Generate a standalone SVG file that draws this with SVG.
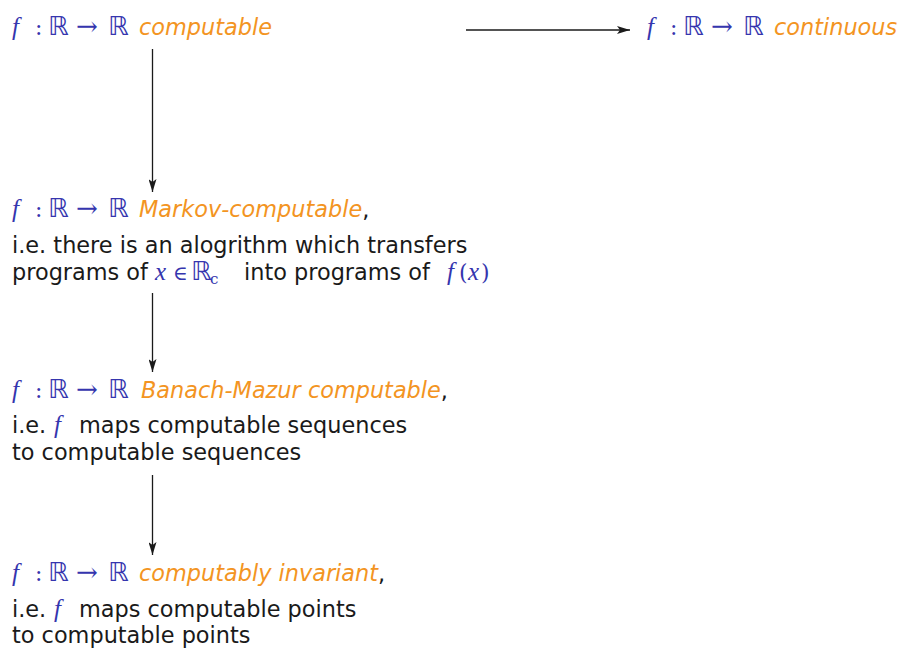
<svg xmlns="http://www.w3.org/2000/svg" width="900" height="649" viewBox="0 0 900 649">
<defs>
<style>
.t{font-family:"DejaVu Sans",sans-serif;font-size:22.4px;fill:#1a1a1a}
.o{font-family:"DejaVu Sans",sans-serif;font-size:22.4px;font-style:italic;fill:#F39422}
.mi{font-family:"Liberation Serif","DejaVu Serif",serif;font-size:25px;font-style:italic;fill:#3535AE}
.m{font-family:"DejaVu Serif",serif;font-size:22px;fill:#3535AE}
.ar{font-family:"DejaVu Serif",serif;font-size:26px;fill:#3535AE}
.bb{font-family:"DejaVu Sans",sans-serif;font-size:26px;fill:#3535AE}
.sub{font-family:"DejaVu Serif",serif;font-size:15px;fill:#3535AE}
.c{stroke:#1a1a1a;stroke-width:1.3;fill:none}
</style>
<marker id="ah" viewBox="0 0 13 8" refX="13" refY="4" markerWidth="13" markerHeight="8" markerUnits="userSpaceOnUse" orient="auto">
<path d="M0,0 L13,4 L0,8 L3,4 Z" fill="#1a1a1a"/>
</marker>
</defs>
<g id="connectors">
<line class="c" x1="466" y1="30" x2="630" y2="30" marker-end="url(#ah)"/>
<line class="c" x1="152.5" y1="49" x2="152.5" y2="192" marker-end="url(#ah)"/>
<line class="c" x1="152.5" y1="293" x2="152.5" y2="372" marker-end="url(#ah)"/>
<line class="c" x1="152.5" y1="475" x2="152.5" y2="555" marker-end="url(#ah)"/>
</g>
<g id="computable">
<text y="35"><tspan class="mi" x="12">f</tspan><tspan class="m" x="35">:</tspan><tspan class="bb" x="48">ℝ</tspan><tspan class="ar" x="76">→</tspan><tspan class="bb" x="108">ℝ</tspan><tspan class="o" x="139">computable</tspan></text>
</g>
<g id="continuous">
<text y="35"><tspan class="mi" x="647">f</tspan><tspan class="m" x="670">:</tspan><tspan class="bb" x="683">ℝ</tspan><tspan class="ar" x="711">→</tspan><tspan class="bb" x="743">ℝ</tspan><tspan class="o" x="774">continuous</tspan></text>
</g>
<g id="markov">
<text y="217"><tspan class="mi" x="12">f</tspan><tspan class="m" x="35">:</tspan><tspan class="bb" x="48">ℝ</tspan><tspan class="ar" x="76">→</tspan><tspan class="bb" x="108">ℝ</tspan><tspan class="o" x="139">Markov-computable</tspan><tspan class="t">,</tspan></text>
<text class="t" x="12" y="253">i.e. there is an alogrithm which transfers</text>
<text y="280"><tspan class="t" x="12">programs of</tspan><tspan class="mi" x="155">x</tspan><tspan class="m" x="173" style="font-size:20px">∈</tspan><tspan class="bb" x="191">ℝ</tspan><tspan class="sub" x="210" y="284">c</tspan><tspan class="t" x="244" y="280">into programs of</tspan><tspan class="mi" x="447">f</tspan><tspan class="m" x="459">(</tspan><tspan class="mi" x="468">x</tspan><tspan class="m" x="481">)</tspan></text>
</g>
<g id="banach-mazur">
<text y="398"><tspan class="mi" x="12">f</tspan><tspan class="m" x="35">:</tspan><tspan class="bb" x="48">ℝ</tspan><tspan class="ar" x="76">→</tspan><tspan class="bb" x="108">ℝ</tspan><tspan class="o" x="141">Banach-Mazur computable</tspan><tspan class="t">,</tspan></text>
<text y="433"><tspan class="t" x="12">i.e.</tspan><tspan class="mi" x="54">f</tspan><tspan class="t" x="79">maps computable sequences</tspan></text>
<text class="t" x="12" y="460">to computable sequences</text>
</g>
<g id="invariant">
<text y="581"><tspan class="mi" x="12">f</tspan><tspan class="m" x="35">:</tspan><tspan class="bb" x="48">ℝ</tspan><tspan class="ar" x="76">→</tspan><tspan class="bb" x="108">ℝ</tspan><tspan class="o" x="139">computably invariant</tspan><tspan class="t">,</tspan></text>
<text y="617"><tspan class="t" x="12">i.e.</tspan><tspan class="mi" x="54">f</tspan><tspan class="t" x="79">maps computable points</tspan></text>
<text class="t" x="12" y="643">to computable points</text>
</g>
</svg>
